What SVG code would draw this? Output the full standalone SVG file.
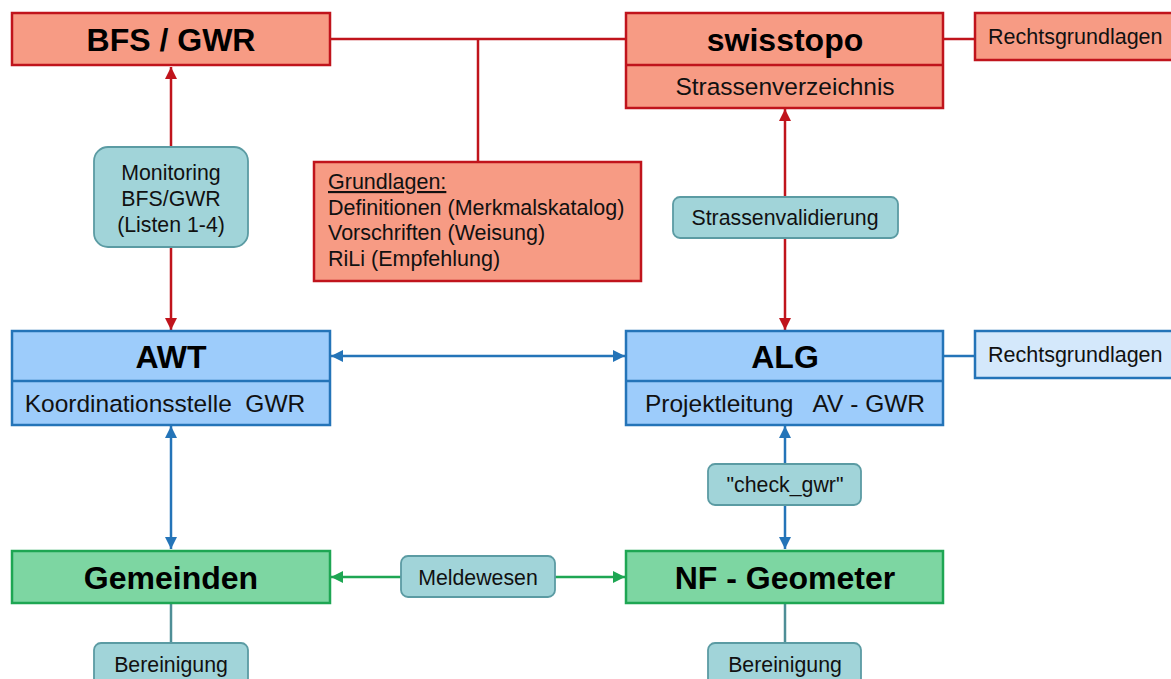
<svg xmlns="http://www.w3.org/2000/svg" width="1171" height="679" viewBox="0 0 1171 679">
<style>
.red{fill:#F79B84;stroke:#C0141C;stroke-width:2.5}
.blue{fill:#9DCCFB;stroke:#2474B8;stroke-width:2.5}
.green{fill:#7DD6A2;stroke:#1EA653;stroke-width:2.5}
.teal{fill:#A1D4D9;stroke:#5B9BA3;stroke-width:1.8}
.title{font-family:"Liberation Sans",Arial,sans-serif;font-weight:bold;font-size:32px;fill:#000;text-anchor:middle}
.sub{font-family:"Liberation Sans",Arial,sans-serif;font-size:24.5px;fill:#111;text-anchor:middle}
.lbl{font-family:"Liberation Sans",Arial,sans-serif;font-size:21.3px;fill:#111;text-anchor:middle}
.lft{font-family:"Liberation Sans",Arial,sans-serif;font-size:21.5px;fill:#111}
.cr{stroke:#C0141C;stroke-width:2.5;fill:none}
.cb{stroke:#2474B8;stroke-width:2.5;fill:none}
.cg{stroke:#1EA653;stroke-width:2.5;fill:none}
.ct{stroke:#4E8E96;stroke-width:2.5;fill:none}
</style>
<defs>
<marker id="ar" viewBox="0 0 10 10" refX="10" refY="5" markerWidth="13" markerHeight="12" markerUnits="userSpaceOnUse" orient="auto-start-reverse"><path d="M0,0 L10,5 L0,10 z" fill="#C0141C"/></marker>
<marker id="ab" viewBox="0 0 10 10" refX="10" refY="5" markerWidth="13" markerHeight="12" markerUnits="userSpaceOnUse" orient="auto-start-reverse"><path d="M0,0 L10,5 L0,10 z" fill="#2474B8"/></marker>
<marker id="ag" viewBox="0 0 10 10" refX="10" refY="5" markerWidth="13" markerHeight="12" markerUnits="userSpaceOnUse" orient="auto-start-reverse"><path d="M0,0 L10,5 L0,10 z" fill="#1EA653"/></marker>
</defs>
<rect width="1171" height="679" fill="#fff"/>
<g id="connectors">
<line class="cr" x1="330" y1="39" x2="626" y2="39"/>
<line class="cr" x1="478" y1="39" x2="478" y2="162"/>
<line class="cr" x1="943" y1="39" x2="975" y2="39"/>
<line class="cr" x1="171" y1="67" x2="171" y2="330" marker-start="url(#ar)" marker-end="url(#ar)"/>
<line class="cr" x1="785" y1="109" x2="785" y2="330" marker-start="url(#ar)" marker-end="url(#ar)"/>
<line class="cb" x1="331" y1="356" x2="625" y2="356" marker-start="url(#ab)" marker-end="url(#ab)"/>
<line class="cb" x1="943" y1="356" x2="975" y2="356"/>
<line class="cb" x1="171" y1="426" x2="171" y2="549" marker-start="url(#ab)" marker-end="url(#ab)"/>
<line class="cb" x1="785" y1="426" x2="785" y2="549" marker-start="url(#ab)" marker-end="url(#ab)"/>
<line class="cg" x1="331" y1="577" x2="625" y2="577" marker-start="url(#ag)" marker-end="url(#ag)"/>
<line class="ct" x1="171" y1="604" x2="171" y2="643"/>
<line class="ct" x1="785" y1="604" x2="785" y2="643"/>
</g>
<g id="bfs">
<rect class="red" x="12" y="13" width="318" height="52"/>
<text class="title" x="171" y="51">BFS / GWR</text>
</g>
<g id="swisstopo">
<rect class="red" x="626" y="13" width="317" height="95"/>
<line class="cr" x1="626" y1="65" x2="943" y2="65"/>
<text class="title" x="785" y="51">swisstopo</text>
<text class="sub" x="785" y="95">Strassenverzeichnis</text>
</g>
<g id="rechts1">
<rect class="red" x="975" y="13" width="205" height="47"/>
<text class="lft" x="988" y="44">Rechtsgrundlagen</text>
</g>
<g id="grundlagen">
<rect class="red" x="314" y="162" width="327" height="119"/>
<text class="lft" x="328" y="189" text-decoration="underline">Grundlagen:</text>
<text class="lft" x="328" y="215">Definitionen (Merkmalskatalog)</text>
<text class="lft" x="328" y="240">Vorschriften (Weisung)</text>
<text class="lft" x="328" y="266">RiLi (Empfehlung)</text>
</g>
<g id="monitoring">
<rect class="teal" x="94" y="147" width="154" height="100" rx="14"/>
<text class="lbl" x="171" y="180">Monitoring</text>
<text class="lbl" x="171" y="206">BFS/GWR</text>
<text class="lbl" x="171" y="232">(Listen 1-4)</text>
</g>
<g id="strassenvalidierung">
<rect class="teal" x="673" y="197" width="225" height="41" rx="7"/>
<text class="lbl" x="785" y="225">Strassenvalidierung</text>
</g>
<g id="awt">
<rect class="blue" x="12" y="331" width="318" height="94"/>
<line class="cb" x1="12" y1="381" x2="330" y2="381"/>
<text class="title" x="171" y="368">AWT</text>
<text class="sub" x="165" y="412" xml:space="preserve">Koordinationsstelle  GWR</text>
</g>
<g id="alg">
<rect class="blue" x="626" y="331" width="317" height="94"/>
<line class="cb" x1="626" y1="381" x2="943" y2="381"/>
<text class="title" x="785" y="368">ALG</text>
<text class="sub" x="785" y="412" xml:space="preserve">Projektleitung   AV - GWR</text>
</g>
<g id="rechts2">
<rect x="975" y="331" width="205" height="47" fill="#D4E8FB" stroke="#2474B8" stroke-width="2.5"/>
<text class="lft" x="988" y="362">Rechtsgrundlagen</text>
</g>
<g id="checkgwr">
<rect class="teal" x="708" y="464" width="153" height="41" rx="7"/>
<text class="lbl" x="785" y="492">"check_gwr"</text>
</g>
<g id="gemeinden">
<rect class="green" x="12" y="551" width="318" height="52"/>
<text class="title" x="171" y="589">Gemeinden</text>
</g>
<g id="nfgeometer">
<rect class="green" x="626" y="551" width="317" height="52"/>
<text class="title" x="785" y="589">NF - Geometer</text>
</g>
<g id="meldewesen">
<rect class="teal" x="401" y="556" width="154" height="41" rx="7"/>
<text class="lbl" x="478" y="585">Meldewesen</text>
</g>
<g id="bereinigung1">
<rect class="teal" x="94" y="643" width="154" height="48" rx="7"/>
<text class="lbl" x="171" y="672">Bereinigung</text>
</g>
<g id="bereinigung2">
<rect class="teal" x="708" y="643" width="153" height="48" rx="7"/>
<text class="lbl" x="785" y="672">Bereinigung</text>
</g>
</svg>
